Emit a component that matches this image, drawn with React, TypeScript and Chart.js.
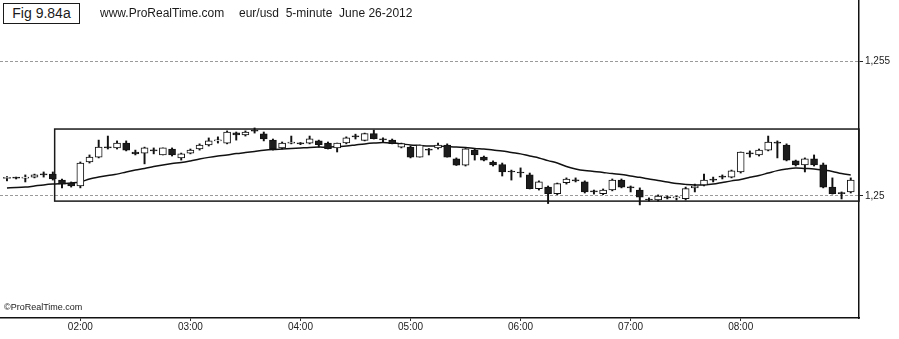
import React, { useEffect, useRef } from "react";
import { Chart, registerables } from "chart.js";
Chart.register(...registerables);

// 5-minute bars, EUR/USD, June 26 2012
const times = [
  "01:20","01:25","01:30","01:35","01:40","01:45","01:50","01:55",
  "02:00","02:05","02:10","02:15","02:20","02:25","02:30","02:35","02:40","02:45","02:50","02:55",
  "03:00","03:05","03:10","03:15","03:20","03:25","03:30","03:35","03:40","03:45","03:50","03:55",
  "04:00","04:05","04:10","04:15","04:20","04:25","04:30","04:35","04:40","04:45","04:50","04:55",
  "05:00","05:05","05:10","05:15","05:20","05:25","05:30","05:35","05:40","05:45","05:50","05:55",
  "06:00","06:05","06:10","06:15","06:20","06:25","06:30","06:35","06:40","06:45","06:50","06:55",
  "07:00","07:05","07:10","07:15","07:20","07:25","07:30","07:35","07:40","07:45","07:50","07:55",
  "08:00","08:05","08:10","08:15","08:20","08:25","08:30","08:35","08:40","08:45","08:50","08:55",
  "09:00",
];

const openP = [
  1.25065,1.25068,1.25066,1.25070,1.25078,1.25081,1.25059,1.25048,1.25037,1.25126,
  1.25144,1.25181,1.25178,1.25196,1.25163,1.25159,1.25167,1.25152,1.25174,1.25141,
  1.25159,1.25174,1.25189,1.25204,1.25196,1.25234,1.25226,1.25241,1.25230,1.25207,
  1.25178,1.25196,1.25196,1.25196,1.25204,1.25196,1.25178,1.25197,1.25219,1.25206,
  1.25231,1.25211,1.25207,1.25181,1.25181,1.25144,1.25170,1.25178,1.25189,1.25138,
  1.25114,1.25170,1.25144,1.25126,1.25116,1.25089,1.25085,1.25078,1.25027,1.25033,
  1.25009,1.25049,1.25056,1.25052,1.25015,1.25009,1.25022,1.25059,1.25030,1.25022,
  1.24985,1.24985,1.24993,1.24993,1.24990,1.25030,1.25041,1.25059,1.25070,1.25070,
  1.25089,1.25156,1.25152,1.25170,1.25200,1.25189,1.25130,1.25115,1.25138,1.25115,
  1.25033,1.25009,1.25015,
];
const highP = [
  1.25072,1.25070,1.25078,1.25081,1.25089,1.25089,1.25063,1.25052,1.25126,1.25152,
  1.25207,1.25222,1.25204,1.25204,1.25170,1.25181,1.25178,1.25178,1.25178,1.25159,
  1.25174,1.25193,1.25215,1.25219,1.25241,1.25237,1.25241,1.25252,1.25237,1.25211,
  1.25200,1.25222,1.25198,1.25222,1.25207,1.25200,1.25196,1.25219,1.25229,1.25233,
  1.25244,1.25215,1.25211,1.25196,1.25185,1.25189,1.25176,1.25196,1.25193,1.25141,
  1.25176,1.25174,1.25148,1.25130,1.25122,1.25096,1.25104,1.25085,1.25056,1.25037,
  1.25048,1.25067,1.25067,1.25056,1.25022,1.25026,1.25063,1.25063,1.25037,1.25030,
  1.24993,1.25004,1.25000,1.25000,1.25033,1.25044,1.25081,1.25070,1.25078,1.25096,
  1.25163,1.25167,1.25174,1.25222,1.25204,1.25193,1.25133,1.25141,1.25152,1.25122,
  1.25067,1.25015,1.25067,
];
const lowP = [
  1.25056,1.25063,1.25052,1.25067,1.25070,1.25059,1.25030,1.25033,1.25030,1.25122,
  1.25141,1.25174,1.25174,1.25167,1.25152,1.25119,1.25156,1.25152,1.25148,1.25133,
  1.25156,1.25170,1.25185,1.25196,1.25193,1.25207,1.25222,1.25233,1.25204,1.25170,
  1.25174,1.25193,1.25190,1.25193,1.25181,1.25174,1.25163,1.25193,1.25211,1.25204,
  1.25211,1.25200,1.25193,1.25178,1.25141,1.25144,1.25152,1.25174,1.25144,1.25113,
  1.25111,1.25133,1.25130,1.25111,1.25074,1.25059,1.25070,1.25026,1.25022,1.24972,
  1.25005,1.25044,1.25052,1.25011,1.25007,1.25005,1.25019,1.25030,1.25015,1.24967,
  1.24981,1.24981,1.24989,1.24985,1.24985,1.25015,1.25037,1.25052,1.25063,1.25067,
  1.25085,1.25144,1.25148,1.25167,1.25141,1.25130,1.25111,1.25089,1.25111,1.25030,
  1.25007,1.24989,1.25011,
];
const closeP = [
  1.25068,1.25066,1.25067,1.25078,1.25078,1.25063,1.25044,1.25037,1.25122,1.25144,
  1.25181,1.25178,1.25196,1.25170,1.25156,1.25178,1.25167,1.25178,1.25152,1.25156,
  1.25170,1.25189,1.25204,1.25207,1.25237,1.25226,1.25237,1.25240,1.25211,1.25174,
  1.25196,1.25200,1.25193,1.25212,1.25190,1.25175,1.25196,1.25215,1.25219,1.25231,
  1.25212,1.25208,1.25194,1.25194,1.25144,1.25189,1.25170,1.25189,1.25144,1.25114,
  1.25175,1.25152,1.25133,1.25115,1.25089,1.25089,1.25085,1.25027,1.25052,1.25009,
  1.25046,1.25063,1.25056,1.25015,1.25015,1.25022,1.25059,1.25033,1.25030,1.24996,
  1.24985,1.25000,1.24993,1.24994,1.25027,1.25037,1.25059,1.25059,1.25070,1.25093,
  1.25163,1.25156,1.25170,1.25200,1.25196,1.25133,1.25115,1.25138,1.25115,1.25033,
  1.25009,1.25009,1.25059,
];
// moving average line
const maP = [
  1.25030,1.25031,1.25033,1.25037,1.25041,1.25044,1.25046,1.25048,1.25052,1.25063,
  1.25070,1.25076,1.25081,1.25089,1.25096,1.25102,1.25109,1.25115,1.25120,1.25124,
  1.25130,1.25137,1.25143,1.25148,1.25152,1.25157,1.25161,1.25165,1.25169,1.25172,
  1.25174,1.25176,1.25178,1.25180,1.25181,1.25181,1.25183,1.25185,1.25189,1.25193,
  1.25196,1.25198,1.25196,1.25193,1.25189,1.25187,1.25185,1.25185,1.25183,1.25181,
  1.25180,1.25176,1.25174,1.25170,1.25167,1.25161,1.25156,1.25148,1.25141,1.25131,
  1.25122,1.25109,1.25100,1.25094,1.25091,1.25087,1.25083,1.25080,1.25074,1.25069,
  1.25063,1.25057,1.25052,1.25046,1.25043,1.25041,1.25041,1.25044,1.25050,1.25056,
  1.25061,1.25069,1.25076,1.25085,1.25094,1.25100,1.25104,1.25102,1.25100,1.25096,
  1.25091,1.25083,1.25078,
];

const xTickTimes = ["02:00", "03:00", "04:00", "05:00", "06:00", "07:00", "08:00"];
const yTickValues = [1.25, 1.255];
const yTickLabels = ["1,25", "1,255"];

// trading range rectangle (start bar position, top & bottom prices)
const boxStart = 5.2;
const boxTop = 1.25248;
const boxBottom = 1.24981;

const FONT = "'Liberation Sans', Arial, sans-serif";

export default function App() {
  const ref = useRef<HTMLCanvasElement>(null);

  useEffect(() => {
    const canvas = ref.current;
    if (!canvas) return;
    const idx = times.map((_, i) => i);
    const bodies = idx.map((i) => ({ x: i, y: [openP[i], closeP[i]] }));
    const wicks = idx.map((i) => ({ x: i, y: [lowP[i], highP[i]] }));
    const ma = idx.map((i) => ({ x: i, y: maP[i] }));
    const bodyColors = idx.map((i) => (closeP[i] > openP[i] ? "#ffffff" : "#1c1c1c"));

    const boxPlugin = {
      id: "rangeBox",
      beforeDatasetsDraw(chart: any) {
        const { ctx, scales, chartArea } = chart;
        const l = scales.x.getPixelForValue(boxStart);
        const r = chartArea.right;
        const t = scales.y.getPixelForValue(boxTop);
        const b = scales.y.getPixelForValue(boxBottom);
        ctx.save();
        ctx.strokeStyle = "#1a1a1a";
        ctx.lineWidth = 1.5;
        ctx.strokeRect(l, t, r - l, b - t);
        ctx.restore();
      },
    };

    const chart = new Chart(canvas, {
      type: "bar",
      data: {
        datasets: [
          {
            label: "body",
            data: bodies as any,
            backgroundColor: bodyColors,
            borderColor: "#111",
            borderWidth: 1,
            borderSkipped: false,
            barThickness: 7,
            minBarLength: 1,
            grouped: false,
            order: 0,
          } as any,
          {
            type: "line",
            label: "MA",
            data: ma as any,
            borderColor: "#111",
            borderWidth: 1.5,
            pointRadius: 0,
            tension: 0.35,
            order: 1,
          } as any,
          {
            label: "wick",
            data: wicks as any,
            backgroundColor: "#111",
            borderWidth: 0,
            barThickness: 1.3,
            grouped: false,
            order: 2,
          } as any,
        ],
      },
      options: {
        animation: false,
        responsive: false,
        maintainAspectRatio: false,
        layout: { padding: 0 },
        plugins: {
          legend: { display: false },
          tooltip: { enabled: false },
          title: { display: false },
        },
        scales: {
          x: {
            type: "linear",
            min: -0.76,
            max: 92.9,
            offset: false,
            position: "bottom",
            grid: {
              display: true,
              drawOnChartArea: false,
              drawTicks: true,
              tickLength: 3,
              tickColor: "#333",
              offset: false,
            },
            border: { display: true, color: "#111", width: 1.5 },
            afterBuildTicks: (s: any) => {
              s.ticks = xTickTimes.map((t) => ({ value: times.indexOf(t) }));
            },
            afterFit: (s: any) => {
              s.height = 21;
              s.paddingLeft = 0;
              s.paddingRight = 0;
            },
            ticks: {
              autoSkip: false,
              maxRotation: 0,
              padding: 0,
              color: "#222",
              font: { family: FONT, size: 10 },
              callback: (v: any) => times[v] ?? "",
            },
          },
          y: {
            type: "linear",
            position: "right",
            min: 1.24548,
            max: 1.25726,
            grid: {
              color: "#9a9a9a",
              lineWidth: 1,
              tickLength: 4,
              tickColor: "#222",
              drawTicks: true,
            },
            border: { display: true, color: "#111", width: 1.5, dash: [3, 2] },
            afterBuildTicks: (s: any) => {
              s.ticks = yTickValues.map((v) => ({ value: v }));
            },
            afterFit: (s: any) => {
              s.width = 40;
              s.paddingTop = 0;
              s.paddingBottom = 0;
            },
            ticks: {
              padding: 2,
              color: "#222",
              font: { family: FONT, size: 10 },
              callback: (_v: any, i: number) => yTickLabels[i],
            },
          },
        },
      } as any,
      plugins: [boxPlugin],
    });
    return () => chart.destroy();
  }, []);

  return (
    <div
      style={{
        position: "fixed",
        left: 0,
        top: 0,
        width: 899,
        height: 339,
        background: "#ffffff",
        fontFamily: FONT,
        color: "#1a1a1a",
      }}
    >
      <canvas ref={ref} width={899} height={339} style={{ position: "absolute", left: 0, top: 0 }} />
      <div
        style={{
          position: "absolute",
          left: 3,
          top: 3,
          width: 75,
          height: 19,
          border: "1px solid #1a1a1a",
          fontSize: 14,
          lineHeight: "19px",
          textAlign: "center",
          background: "#fff",
        }}
      >
        Fig 9.84a
      </div>
      <div style={{ position: "absolute", left: 100, top: 6, fontSize: 12, whiteSpace: "pre" }}>
        www.ProRealTime.com
      </div>
      <div style={{ position: "absolute", left: 239, top: 6, fontSize: 12, whiteSpace: "pre" }}>
        {"eur/usd  5-minute  June 26-2012"}
      </div>
      <div style={{ position: "absolute", left: 4, top: 302, fontSize: 9, whiteSpace: "pre" }}>
        ©ProRealTime.com
      </div>
    </div>
  );
}
